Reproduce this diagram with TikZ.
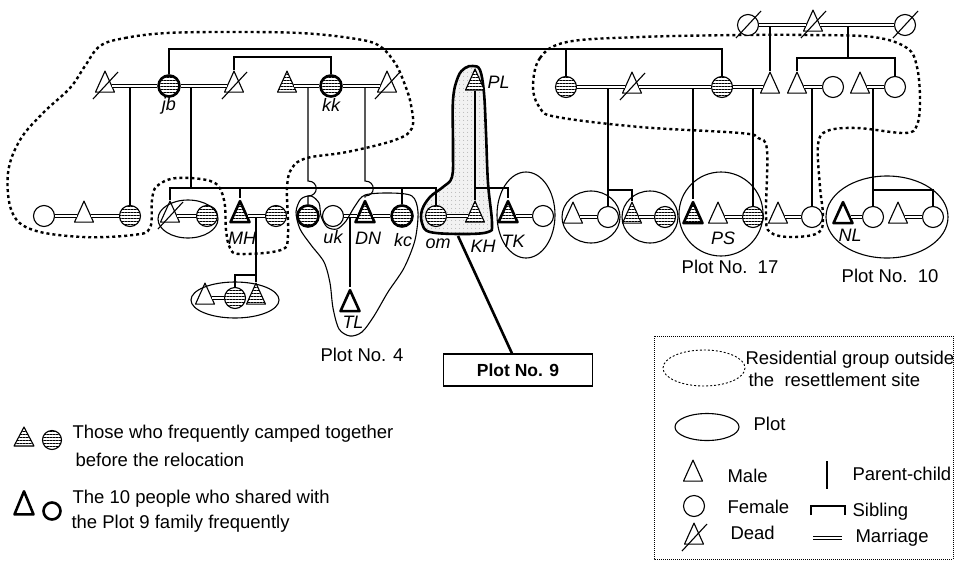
\documentclass[tikz,border=0pt]{standalone}
\usepackage{fontspec}
\setmainfont{Liberation Sans}
\usetikzlibrary{shapes.geometric,patterns.meta}

\tikzset{
  fem/.style={circle, draw, fill=white, minimum size=21pt, inner sep=0pt},
  mal/.style={isosceles triangle, isosceles triangle stretches, shape border rotate=90,
    draw, fill=white, minimum width=19pt, minimum height=21pt, inner sep=0pt, line join=round},
  strp/.style={preaction={fill=white}, pattern={Lines[angle=0,distance=3pt,line width=0.7pt]}},
  hv/.style={line width=2.6pt},
  marr/.style={double, double distance=1.8pt, line width=0.9pt},
  resid/.style={line width=2.4pt, dash pattern=on 3pt off 3pt},
  lab/.style={font=\fontsize{18}{21}\selectfont\itshape, inner sep=0pt},
  txt/.style={font=\fontsize{18.5}{22}\selectfont, inner sep=0pt},
}
\newcommand\deadmark[1]{\draw ([shift={(-12,13)}]#1.center) -- ([shift={(13,-14)}]#1.center);}

\begin{document}
\begin{tikzpicture}[x=1pt,y=-1pt,line width=1.1pt]
  \useasboundingbox (0,0) rectangle (958,560);
  % Plot 9: zona ombreggiata
  \draw[hv, preaction={fill=gray!10}, pattern={Dots[distance=4pt,radius=0.55pt]}, pattern color=gray!80]
    plot[smooth cycle, tension=0.6] coordinates {(473,66) (480,70) (484,93) (486,133) (488,183) (492,223)
      (488,232) (463,234) (430,232) (422,223) (422,210) (430,197) (443,187) (452,177) (453,150) (453,100) (458,77) (465,68)};
  % gruppi residenziali
  \draw[resid] plot[smooth cycle, tension=0.6] coordinates {(100,46) (125,38) (167,33) (233,32) (300,33) (350,38)
      (378,45) (395,63) (405,85) (411,105) (412,128) (395,140) (347,152) (307,158) (292,168) (287,188) (288,235)
      (281,250) (240,254) (230,248) (226,230) (224,200) (213,182) (177,178) (157,186) (152,200) (150,228) (133,235)
      (83,237) (33,230) (12,212) (8,173) (20,140) (43,113) (70,88) (85,66)};
  \draw[resid] plot[smooth cycle, tension=0.6] coordinates {(533,87) (540,58) (567,42) (640,37) (740,35) (807,35)
      (873,37) (907,48) (917,67) (920,100) (917,125) (905,133) (857,128) (827,131) (818,145) (820,187) (823,217)
      (818,233) (790,237) (770,232) (766,215) (767,150) (758,138) (740,133) (640,127) (557,117) (540,108)};

  % generazione 0
  \node[fem] (g0a) at (748,25) {};
  \node[mal] (g0b) at (813,25) {};
  \node[fem] (g0c) at (905,25) {};
  % generazione 1
  \node[mal] (a1) at (105,86) {};
  \node[fem,strp,hv] (jb) at (169,86) {};
  \node[mal] (a3) at (234,86) {};
  \node[mal,strp] (a4) at (287,86) {};
  \node[fem,strp,hv] (kk) at (331,86) {};
  \node[mal] (a6) at (387,86) {};
  \node[mal,strp] (PL) at (475,84) {};
  \node[fem,strp] (b1) at (566,87) {};
  \node[mal] (b2) at (632,87) {};
  \node[fem,strp] (b3) at (722,87) {};
  \node[mal] (b4) at (770,87) {};
  \node[mal] (b5) at (797,87) {};
  \node[fem] (b6) at (833,87) {};
  \node[mal] (b7) at (860,87) {};
  \node[fem] (b8) at (895,87) {};
  % generazione 2
  \node[fem] (c1) at (44,216) {};
  \node[mal] (c2) at (84,216) {};
  \node[fem,strp] (c3) at (130,216) {};
  \node[mal] (c4) at (170,216) {};
  \node[fem,strp] (c5) at (207,216) {};
  \node[mal,strp,hv] (MH) at (240,216) {};
  \node[fem,strp] (c7) at (276,216) {};
  \node[fem,strp,hv] (c8) at (308,216) {};
  \node[fem] (uk) at (333,216) {};
  \node[mal,strp,hv] (DN) at (365,216) {};
  \node[fem,strp,hv] (kc) at (402,216) {};
  \node[fem,strp] (om) at (436,216) {};
  \node[mal,strp] (KH) at (475,216) {};
  \node[mal,strp,hv] (TK) at (508,216) {};
  \node[fem] (c13) at (543,216) {};
  \node[mal] (d1) at (573,217) {};
  \node[fem] (d2) at (608,217) {};
  \node[mal,strp] (d3) at (632,217) {};
  \node[fem,strp] (d4) at (665,217) {};
  \node[mal,strp,hv] (d5) at (693,217) {};
  \node[mal] (PS) at (718,217) {};
  \node[fem,strp] (d7) at (753,217) {};
  \node[mal] (d8) at (778,217) {};
  \node[fem] (d9) at (812,217) {};
  \node[mal,hv] (NL) at (843,217) {};
  \node[fem] (d11) at (873,217) {};
  \node[mal] (d12) at (898,217) {};
  \node[fem] (d13) at (933,217) {};
  % generazione 3
  \node[mal] (e1) at (205,298) {};
  \node[fem,strp] (e2) at (235,298) {};
  \node[mal,strp] (e3) at (256,298) {};
  \node[mal,hv] (TL) at (350,305) {};

  % fratelli
  \coordinate (sibT) at (0,49);
  \coordinate (sibT2) at (0,57);
  \coordinate (sibG) at (0,58);
  \coordinate (sibA) at (0,188);
  \coordinate (sibR) at (0,190);
  \coordinate (sibM) at (0,275);
  \draw (jb) -- (jb |- sibT) -- (b3 |- sibT) -- (b3);
  \draw (b1) -- (b1 |- sibT);
  \draw (a3) -- (a3 |- sibT2) -- (kk |- sibT2) -- (kk);
  \draw (b5) -- (b5 |- sibG) -- (b8 |- sibG) -- (b8);
  \draw (c4) -- (c4 |- sibA) -- (om |- sibA) -- (om);
  \draw (MH) -- (MH |- sibA);
  \draw (kc) -- (kc |- sibA);
  \draw (KH |- sibA) -- (TK |- sibA) -- (TK);
  \draw (d2 |- sibR) -- (d3 |- sibR) -- (d3);
  \draw (d11 |- sibR) -- (d13 |- sibR) -- (d13);
  \draw (e2) -- (e2 |- sibM) -- (e3 |- sibM);

  % genitori-figli
  \coordinate (g0m) at (848,25);
  \coordinate (jbm) at (191,86);
  \draw (g0m) -- (g0m |- sibG);
  \draw (jbm) -- (jbm |- sibA);
  \draw (b4 |- g0a) -- (b4);
  \draw (c3 |- a1) -- (c3);
  \draw (c8 |- kk) -- (308,181) .. controls (319,181) and (319,196) .. (308,196) -- (c8);
  \draw (DN |- kk) -- (365,181) .. controls (376,181) and (376,196) .. (365,196) -- (DN);
  \draw (PL) -- (KH);
  \draw (d2 |- b1) -- (d2);
  \draw (d5 |- b2) -- (d5);
  \draw (d7 |- b3) -- (d7);
  \draw (d9 |- b5) -- (d9);
  \draw (d11 |- b7) -- (d11);
  \draw (TL |- DN) -- (TL);
  \draw (e3 |- MH) -- (e3);

  % matrimoni
  \foreach \p/\q in {g0a/g0b,g0b/g0c,a1/jb,jb/a3,a4/kk,kk/a6,b1/b2,b2/b3,b3/b4,b5/b6,b7/b8,
      c1/c2,c2/c3,c4/c5,MH/c7,uk/DN,DN/kc,om/KH,TK/c13,d1/d2,d3/d4,PS/d7,d8/d9,NL/d11,d12/d13,e1/e2}
    \draw[marr] (\p) -- (\q);

  % morti
  \foreach \p in {g0a,g0b,g0c,a1,a3,a6,b2,c4} {\deadmark{\p}}

  % plot
  \draw (188,219) ellipse [x radius=30, y radius=19];
  \draw (235,300) ellipse [x radius=44, y radius=18];
  \draw (526,215) ellipse [x radius=29, y radius=43];
  \draw (591,217) ellipse [x radius=29, y radius=26];
  \draw (650,217) ellipse [x radius=28, y radius=26];
  \draw (721,214) circle [radius=42];
  \draw (887,217) ellipse [x radius=61, y radius=41];
  \draw plot[smooth cycle, tension=0.5] coordinates {(365,195) (390,193) (412,196) (418,212) (415,240) (404,268)
      (388,292) (374,316) (362,332) (350,336) (339,329) (333,308) (330,283) (324,262) (311,245) (300,229) (296,212)
      (301,199) (311,196) (319,203) (321,216) (327,227) (337,229) (346,221) (355,206)};

  % nomi
  \node[lab, anchor=base] (ljb) at (169,110) {jb};
  \node[lab, anchor=base] (lkk) at (331,111) {kk};
  \node[lab, anchor=base west] (lPL) at (487,88) {PL};
  \node[lab, anchor=base] (lMH) at (242,244) {MH};
  \node[lab, anchor=base] (luk) at (333,243) {uk};
  \node[lab, anchor=base] (lDN) at (368,244) {DN};
  \node[lab, anchor=base] (lkc) at (403,246) {kc};
  \node[lab, anchor=base] (lom) at (438,248) {om};
  \node[lab, anchor=base] (lKH) at (483,252) {KH};
  \node[lab, anchor=base] (lTK) at (513,247) {TK};
  \node[lab, anchor=base] (lTL) at (353,328) {TL};
  \node[lab, anchor=base] (lPS) at (723,244) {PS};
  \node[lab, anchor=base] (lNL) at (850,241) {NL};

  \node[txt, anchor=base] (pl4) at (362,361) {Plot No. 4};
  \node[txt, anchor=base] (pl17) at (730,273) {Plot No.\ \ 17};
  \node[txt, anchor=base] (pl10) at (890,282) {Plot No.\ \ 10};
  \node[draw, font=\fontsize{17.5}{21}\selectfont\bfseries, minimum width=149pt, minimum height=32pt] (p9) at (518,370) {Plot No. 9};
  \coordinate (p9tip) at (458,236);
  \draw[hv] (p9tip) -- ([xshift=-6pt]p9.north);

  % legenda sinistra
  \node[mal,strp,minimum width=20pt,minimum height=19pt] (lgA) at (24,440) {};
  \node[fem,strp,minimum size=19pt] (lgB) at (52,440) {};
  \node[txt, anchor=base west] (lgT1) at (72,438) {Those who frequently camped together};
  \node[txt, anchor=base west] (lgT2) at (75,466) {before the relocation};
  \node[mal,hv,minimum width=19pt,minimum height=23pt] (lgC) at (24,508) {};
  \node[fem,hv,minimum size=17pt] (lgD) at (52,511) {};
  \node[txt, anchor=base west] (lgT3) at (72,503) {The 10 people who shared with};
  \node[txt, anchor=base west] (lgT4) at (71,528) {the Plot 9 family frequently};

  % legenda destra
  \draw[line width=0.8pt, dash pattern=on 1pt off 1pt] (654,336) rectangle (953,559);
  \draw[line width=0.9pt, dash pattern=on 2pt off 2pt] (704,368) ellipse [x radius=41, y radius=18];
  \node[txt, anchor=base west] (lgR1) at (745,364) {Residential group outside};
  \node[txt, anchor=base west] (lgR2) at (748,386) {the\ \ resettlement site};
  \draw (707,427) ellipse [x radius=32, y radius=13.5];
  \node[txt, anchor=base west] (lgPl) at (753,430) {Plot};
  \node[mal] (lgM) at (693,475) {};
  \node[fem] (lgF) at (694,506) {};
  \node[mal] (lgX) at (694,538) {};
  \deadmark{lgX}
  \node[txt, anchor=base west] (lgMa) at (727,482) {Male};
  \node[txt, anchor=base west] (lgFe) at (727,513) {Female};
  \node[txt, anchor=base west] (lgDe) at (730,539) {Dead};
  \coordinate (lgP1) at (827,461);
  \coordinate (lgP2) at (827,489);
  \draw (lgP1) -- (lgP2);
  \coordinate (lgS1) at (811,515);
  \coordinate (lgS2) at (845,515);
  \draw (lgS1) -- ++(0,-9) -| (lgS2);
  \coordinate (lgW1) at (813,538);
  \coordinate (lgW2) at (842,538);
  \draw[marr] (lgW1) -- (lgW2);
  \node[txt, anchor=base west] (lgPc) at (852,480) {Parent-child};
  \node[txt, anchor=base west] (lgSi) at (852,516) {Sibling};
  \node[txt, anchor=base west] (lgMr) at (855,542) {Marriage};
\end{tikzpicture}
\end{document}
